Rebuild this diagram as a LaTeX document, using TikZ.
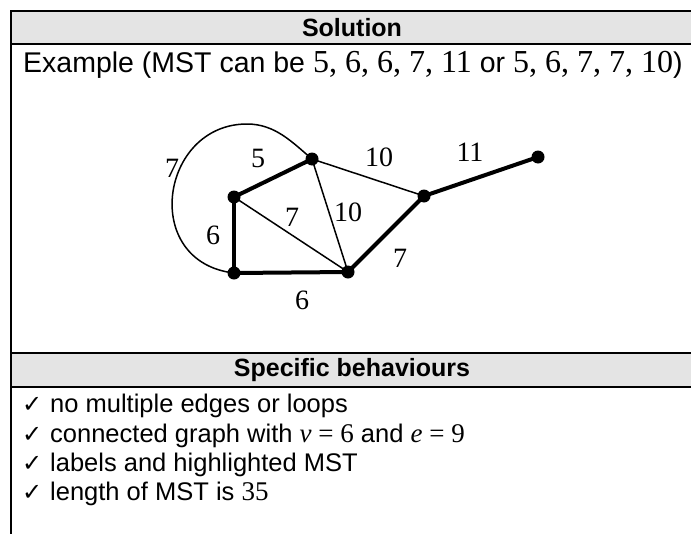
\documentclass[tikz,border=0pt]{standalone}
\usepackage{fontspec}
\setmainfont{Liberation Sans}
\newfontfamily\numfont{Liberation Serif}
\newfontfamily\symfont{DejaVu Sans}
\newcommand{\mnum}[1]{{\fontsize{27}{31}\selectfont\numfont #1}}
\newcommand{\bignum}[1]{{\fontsize{32}{36}\selectfont\numfont #1}}
\definecolor{hdrgray}{HTML}{E4E4E4}
\tikzset{
  rule/.style={line width=2pt, black},
  hdrtext/.style={font=\fontsize{25}{29}\selectfont\bfseries, inner sep=0pt},
  bodytext/.style={font=\fontsize{25.5}{30}\selectfont, anchor=base west, inner sep=0pt},
  extext/.style={font=\fontsize{28.5}{32}\selectfont, anchor=base west, inner sep=0pt},
  checktext/.style={font=\fontsize{24}{28}\selectfont\symfont, anchor=base west, inner sep=0pt},
  thinedge/.style={line width=1.5pt},
  thickedge/.style={line width=4pt},
  vdot/.style={circle, fill=black, inner sep=0pt, minimum size=13pt},
  elabel/.style={font=\fontsize{28}{32}\selectfont\numfont, inner sep=0pt}
}
\begin{document}
\begin{tikzpicture}[x=1pt,y=-1pt]
\useasboundingbox (0,0) rectangle (691,533);
% headers
\fill[hdrgray] (11,11) rectangle (695,44);
\fill[hdrgray] (11,353) rectangle (695,387);
\draw[rule] (11,11) -- (695,11);
\draw[rule] (11,44) -- (695,44);
\draw[rule] (11,353) -- (695,353);
\draw[rule] (11,387) -- (695,387);
\draw[rule] (11,10) -- (11,540);
\node[hdrtext] (h1) at (352,28) {Solution};
\node[hdrtext] (h2) at (352,370) {Specific behaviours};
\node[extext] (ex) at (23,72) {Example (MST can be \bignum{5, 6, 6, 7, 11} or \bignum{5, 6, 7, 7, 10})};
\node[checktext] (c1) at (22,412) {✓};
\node[checktext] (c2) at (22,442) {✓};
\node[checktext] (c3) at (22,471) {✓};
\node[checktext] (c4) at (22,500) {✓};
\node[bodytext] (i1) at (50,412) {no multiple edges or loops};
\node[bodytext] (i2) at (50,442) {connected graph with \mnum{\textit{v} = 6} and \mnum{\textit{e} = 9}};
\node[bodytext] (i3) at (50,471) {labels and highlighted MST};
\node[bodytext] (i4) at (50,500) {length of MST is \mnum{35}};
% graph
\coordinate (A) at (312,159);
\coordinate (B) at (234,197);
\coordinate (C) at (234,273);
\coordinate (D) at (348,272);
\coordinate (E) at (424,196);
\coordinate (F) at (538,157);
\coordinate (T) at (247,124);
\draw[thinedge] (C) .. controls (140,262) and (160,124) .. (T) .. controls (275,124) and (292,142) .. (A);
\draw[thinedge] (A) -- (E);
\draw[thinedge] (A) -- (D);
\draw[thinedge] (B) -- (D);
\draw[thickedge] (A) -- (B);
\draw[thickedge] (B) -- (C);
\draw[thickedge] (C) -- (D);
\draw[thickedge] (D) -- (E);
\draw[thickedge] (E) -- (F);
\foreach \v in {A,B,C,D,E,F} \node[vdot] at (\v) {};
\node[elabel] (l1) at (172,168) {7};
\node[elabel] (l2) at (258,158) {5};
\node[elabel] (l3) at (379,157) {10};
\node[elabel] (l4) at (292,217) {7};
\node[elabel] (l5) at (348,212) {10};
\node[elabel] (l6) at (213,235) {6};
\node[elabel] (l7) at (302,300) {6};
\node[elabel] (l8) at (400,258) {7};
\node[elabel] (l9) at (470,152) {11};
\end{tikzpicture}
\end{document}
